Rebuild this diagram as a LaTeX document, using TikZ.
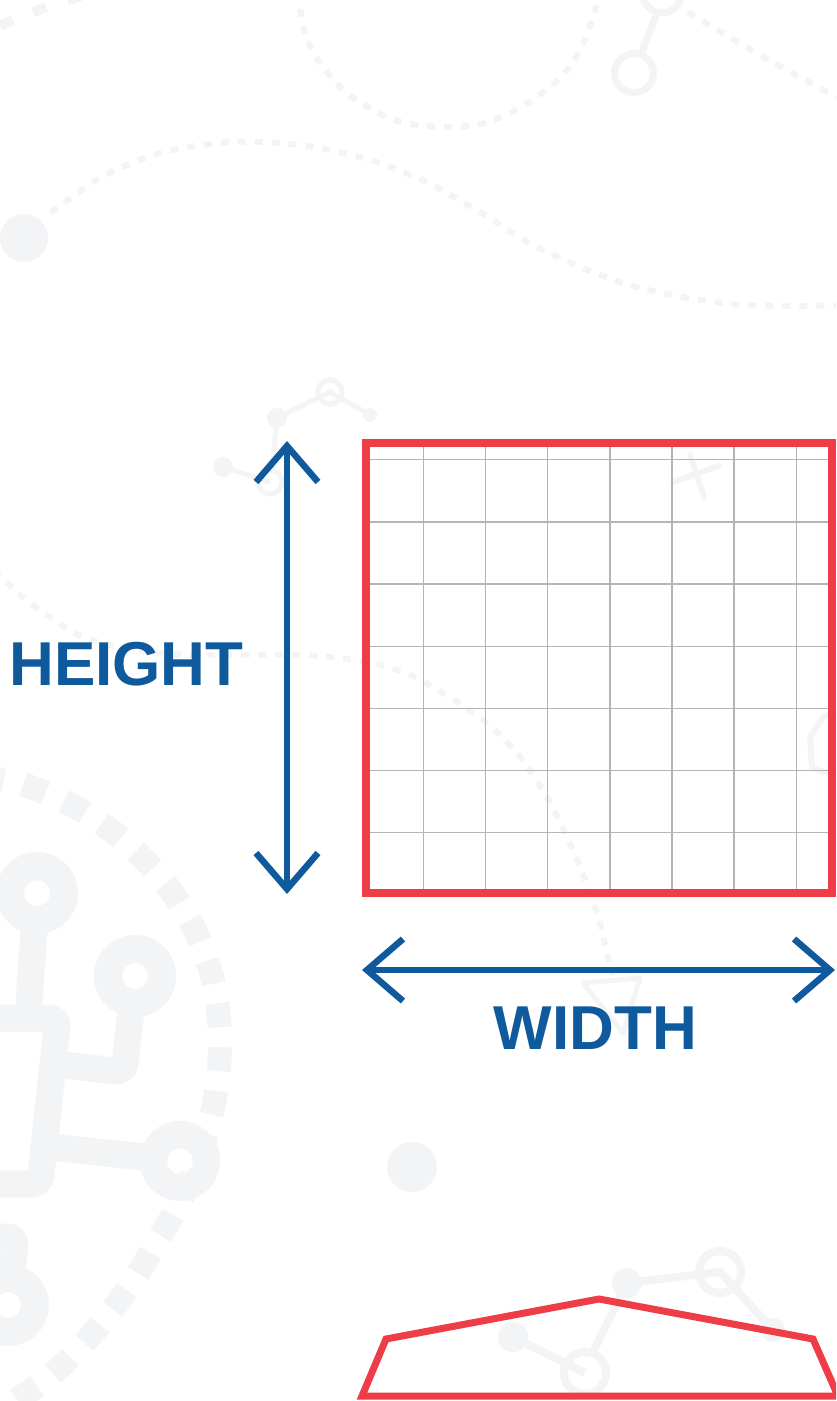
\documentclass[tikz,border=0pt]{standalone}
\definecolor{dimblue}{RGB}{15,90,156}
\definecolor{framered}{RGB}{238,61,71}
\definecolor{gridgray}{RGB}{180,180,180}
\definecolor{faint}{RGB}{243,244,246}
\usepackage{fontspec}
\setmainfont{Liberation Sans}
\usepackage{tikz}
\usetikzlibrary{arrows.meta}

\tikzset{
  dimline/.style={dimblue,line width=6.5pt,
    {Straight Barb[sharp,length=36pt,width=62pt]}-{Straight Barb[sharp,length=36pt,width=62pt]}},
  dimlabel/.style={font=\bfseries\fontsize{62}{62}\selectfont,text=dimblue,inner sep=0pt},
  bgdash/.style={faint,line width=6pt,dash pattern=on 8pt off 9pt},
  bgline/.style={faint,line width=6pt,line cap=round},
  circuit/.style={faint,line width=27pt,rounded corners=9pt},
}

\begin{document}
\begin{tikzpicture}[x=1pt,y=-1pt]
        \path[use as bounding box] (0,0) rectangle (836,1401);
        \clip (0,0) rectangle (836,1401);
        \fill[white] (0,0) rectangle (836,1401);
        % faint background pattern
        \draw[faint,line width=10pt,dash pattern=on 14pt off 22pt] (0,26) .. controls (30,12) and (60,2) .. (95,-8);
        \draw[bgdash] plot[smooth] coordinates {(298,-8) (306,37) (325,70) (352,97) (394,120) (440,127)
                      (485,123) (528,103) (565,73) (586,37) (600,-8)};
        \draw[faint,line width=7pt] (662,-6) circle (19pt) (634,73) circle (19.5pt);
        \draw[faint,line width=7pt] (657,13) -- (641,54);
        \draw[bgdash] (688,12) .. controls (740,45) and (790,72) .. (842,100);
        \fill[faint] (24,238) circle (24pt);
        \draw[bgdash] plot[smooth] coordinates {(51,213) (100,178) (160,153) (230,142) (300,145) (370,160)
                      (426,182) (480,212) (533,245) (590,271) (640,288) (700,300) (746,305) (800,306) (842,305)};
        \draw[bgdash] plot[smooth] coordinates {(-6,570) (30,603) (83,637) (140,651) (200,655) (300,655)
                      (367,662) (417,678) (483,720) (520,757) (550,803) (575,855) (597,913) (607,953) (612,975)};
        \draw[faint,line width=5pt,line join=round] (583,983) -- (640,978) -- (623,1033) -- cycle;
        \draw[bgline] (673,482) -- (719,466) (690,455) -- (704,497);
        \draw[bgline] (840,711) -- (823,717) -- (810,737) -- (812,767) -- (823,772) -- (840,772);
        \draw[faint,line width=5pt] (223,467) -- (270,482) (277,418) -- (272,470)
                                    (277,418) -- (330,392) -- (370,415);
        \draw[faint,line width=5pt] (330,392) circle (12pt) (270,482) circle (12pt);
        \fill[faint] (277,418) circle (10pt) (370,415) circle (7pt) (223,467) circle (10pt);
        \fill[faint] (412,1167) circle (25pt);
        \draw[faint,line width=8pt] (513,1337) -- (585,1373) (627,1283) -- (593,1352)
                                    (627,1283) -- (720,1272) -- (773,1330);
        \draw[faint,line width=8pt] (720,1272) circle (21pt) (585,1373) circle (21pt);
        \fill[faint] (627,1283) circle (15pt) (513,1337) circle (15pt) (773,1330) circle (12pt);
        % circuit on the left
        \draw[faint,line width=24pt,dash pattern=on 24pt off 20pt] plot[smooth] coordinates {(-20,776) (25,785)
                      (77,808) (122,839) (162,879) (192,924) (212,976) (220,1032) (217,1086) (205,1140)
                      (185,1192) (157,1242) (127,1290) (93,1333) (55,1372) (17,1400) (-10,1420)};
        \draw[circuit] (-20,1018) -- (58,1018) -- (40,1184) -- (-20,1184);
        \draw[circuit] (28,1018) -- (34,930);
        \draw[circuit] (55,1064) -- (124,1072) -- (131,1010);
        \draw[circuit] (48,1147) -- (145,1157);
        \draw[circuit] (-20,1237) -- (16,1237) -- (12,1270);
        \fill[faint,even odd rule] (37,893) circle (41pt) (37,893) circle (13pt);
        \fill[faint,even odd rule] (135,976) circle (41pt) (135,976) circle (13pt);
        \fill[faint,even odd rule] (180,1161) circle (40pt) (180,1161) circle (13pt);
        \fill[faint,even odd rule] (8,1305) circle (41pt) (8,1305) circle (13pt);
        % grid and frame
        \foreach \k in {0,...,6} {
          \draw[gridgray,line width=1.4pt] (423.3+62.17*\k,447) -- (423.3+62.17*\k,889);
          \draw[gridgray,line width=1.4pt] (370,459.7+62.17*\k) -- (828,459.7+62.17*\k);
        }
        \draw[framered,line width=8pt] (366,443) rectangle (832,893);
        % dimensions
        \coordinate (htop) at (287,441);
        \coordinate (hbot) at (287,894);
        \coordinate (wleft) at (362,970);
        \coordinate (wright) at (835,970);
        \draw[dimline] (hbot) -- (htop);
        \draw[dimline] (wleft) -- (wright);
        \node[dimlabel] (heightlabel) at (126.5,664.5) {HEIGHT};
        \node[dimlabel] (widthlabel) at (595.5,1028) {WIDTH};
        % roof below
        \draw[framered,line width=7pt,line join=miter] (362,1396) -- (386,1339) -- (599,1299) -- (813,1339)
              -- (838,1396) -- cycle;
      \end{tikzpicture}
\end{document}
